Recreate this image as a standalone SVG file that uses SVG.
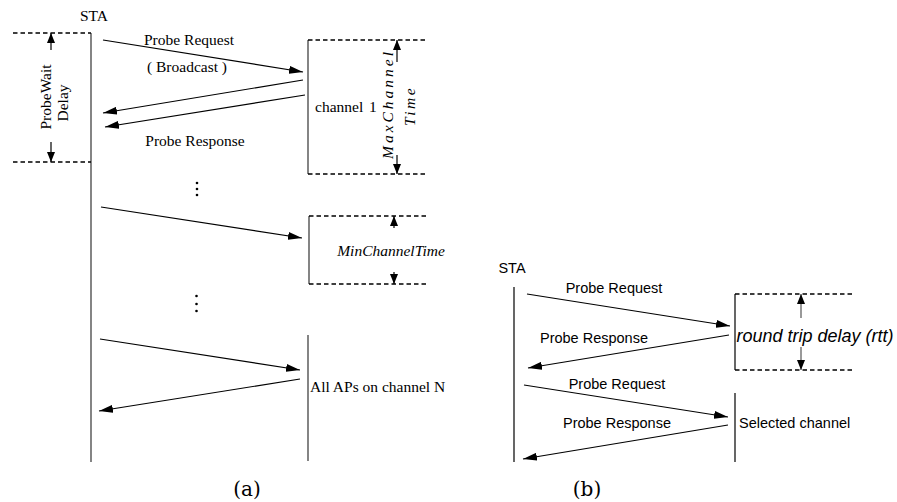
<svg xmlns="http://www.w3.org/2000/svg" width="897" height="502" viewBox="0 0 897 502">
<defs>
<marker id="ah" viewBox="0 0 14 8" refX="14" refY="4" markerWidth="14" markerHeight="8" markerUnits="userSpaceOnUse" orient="auto">
<path d="M0,0 L14,4 L0,8 Z" fill="#000"/>
</marker>
<marker id="sh" viewBox="0 0 10 8" refX="10" refY="4" markerWidth="10" markerHeight="8" markerUnits="userSpaceOnUse" orient="auto">
<path d="M0,0 L10,4 L0,8 Z" fill="#000"/>
</marker>
</defs>
<style>
.msg{stroke:#000;stroke-width:1.2;fill:none;marker-end:url(#ah)}
.dim{stroke:#000;stroke-width:1.2;fill:none;marker-end:url(#sh)}
.dim2{stroke:#555;stroke-width:1.2;fill:none;marker-end:url(#sh)}
.life{stroke:#666;stroke-width:1.6;fill:none}
.lifeb{stroke:#000;stroke-width:1.2;fill:none}
.dash{stroke:#000;stroke-width:1.6;stroke-dasharray:4.5 3;fill:none}
.ts{font-family:"Liberation Serif","Times New Roman",serif;font-size:15.5px;fill:#000}
.ti{font-family:"Liberation Serif","Times New Roman",serif;font-size:15.5px;font-style:italic;fill:#000}
.ss{font-family:"Liberation Sans",Arial,sans-serif;font-size:14.5px;fill:#000}
.si{font-family:"Liberation Sans",Arial,sans-serif;font-size:18px;font-style:italic;fill:#000}
.cap{font-family:"DejaVu Serif","Liberation Serif",serif;font-size:20px;fill:#000}
</style>

<g id="diagram-a">
<g id="sta-a">
<text class="ts" x="94" y="21" text-anchor="middle">STA</text>
<line class="life" x1="91" y1="33" x2="91" y2="462"/>
</g>
<g id="probewait">
<line class="dash" x1="13" y1="33" x2="91" y2="33"/>
<line class="dash" x1="13" y1="162" x2="91" y2="162"/>
<text class="ts" transform="translate(51,97) rotate(-90)" text-anchor="middle">ProbeWait</text>
<text class="ts" transform="translate(68,103) rotate(-90)" text-anchor="middle">Delay</text>
</g>
<g id="channel1">
<line class="life" x1="308" y1="40" x2="308" y2="174"/>
<line class="dash" x1="308" y1="40" x2="426" y2="40"/>
<line class="dash" x1="308" y1="174" x2="426" y2="174"/>
<text class="ts" x="315" y="112">channel</text>
<text class="ts" x="369" y="112">1</text>
<text class="ti" transform="translate(393,104) rotate(-90)" text-anchor="middle" letter-spacing="3">MaxChannel</text>
<text class="ti" transform="translate(415,106) rotate(-90)" text-anchor="middle" letter-spacing="2.5">Time</text>
</g>
<g id="minchannel">
<line class="life" x1="309" y1="216" x2="309" y2="284"/>
<line class="dash" x1="309" y1="216" x2="426" y2="216"/>
<line class="dash" x1="309" y1="284" x2="426" y2="284"/>
<text class="ti" x="391" y="256" text-anchor="middle">MinChannelTime</text>
</g>
<g id="channelN">
<line class="life" x1="308" y1="335" x2="308" y2="461"/>
<text class="ts" x="310" y="392">All APs on channel N</text>
</g>
<g id="dots-a">
<circle cx="197" cy="183" r="1.3"/>
<circle cx="197" cy="189" r="1.3"/>
<circle cx="197" cy="195" r="1.3"/>
<circle cx="196.5" cy="296" r="1.3"/>
<circle cx="196.5" cy="304" r="1.3"/>
<circle cx="196.5" cy="311" r="1.3"/>
</g>
<g id="labels-a">
<text class="ts" x="189" y="45" text-anchor="middle">Probe Request</text>
<text class="ts" x="187" y="72" text-anchor="middle">( Broadcast )</text>
<text class="ts" x="195" y="146" text-anchor="middle">Probe Response</text>
</g>
<text class="cap" x="247" y="496" text-anchor="middle">(a)</text>
</g>

<g id="diagram-b">
<g id="sta-b">
<text class="ss" x="512" y="273" text-anchor="middle" font-size="15">STA</text>
<line class="lifeb" x1="514" y1="287" x2="514" y2="462"/>
</g>
<g id="rtt">
<line class="lifeb" x1="735" y1="294" x2="735" y2="370"/>
<line class="dash" x1="735" y1="294" x2="855" y2="294"/>
<line class="dash" x1="735" y1="370" x2="855" y2="370"/>
<text class="si" x="815" y="342" text-anchor="middle">round trip delay (rtt)</text>
</g>
<g id="selected">
<line class="lifeb" x1="735" y1="393" x2="735" y2="462"/>
<text class="ss" x="739" y="428">Selected channel</text>
</g>
<g id="labels-b">
<text class="ss" x="614" y="293" text-anchor="middle">Probe Request</text>
<text class="ss" x="594" y="343" text-anchor="middle">Probe Response</text>
<text class="ss" x="617" y="389" text-anchor="middle">Probe Request</text>
<text class="ss" x="617" y="428" text-anchor="middle">Probe Response</text>
</g>
<text class="cap" x="587" y="496" text-anchor="middle">(b)</text>
</g>

<g id="connectors">
<line class="msg" x1="103" y1="40" x2="303" y2="72"/>
<line class="msg" x1="303" y1="80" x2="103" y2="113"/>
<line class="msg" x1="305" y1="95" x2="105" y2="127"/>
<line class="msg" x1="101" y1="207" x2="302" y2="238"/>
<line class="msg" x1="100" y1="339" x2="300" y2="370"/>
<line class="msg" x1="300" y1="379" x2="99" y2="411"/>
<line class="dim" x1="51" y1="50" x2="51" y2="33"/>
<line class="dim" x1="51" y1="142" x2="51" y2="162"/>
<line class="dim" x1="397" y1="62" x2="397" y2="40"/>
<line class="dim" x1="397" y1="155" x2="397" y2="174"/>
<line class="dim" x1="394" y1="228" x2="394" y2="216"/>
<line class="dim" x1="394" y1="272" x2="394" y2="284"/>
<line class="msg" x1="527" y1="294" x2="730" y2="326"/>
<line class="msg" x1="729" y1="335" x2="528" y2="368"/>
<line class="msg" x1="524" y1="385" x2="728" y2="417"/>
<line class="msg" x1="728" y1="425" x2="523" y2="459"/>
<line class="dim2" x1="801" y1="318" x2="801" y2="294"/>
<line class="dim2" x1="801" y1="347" x2="801" y2="370"/>
</g>
</svg>
